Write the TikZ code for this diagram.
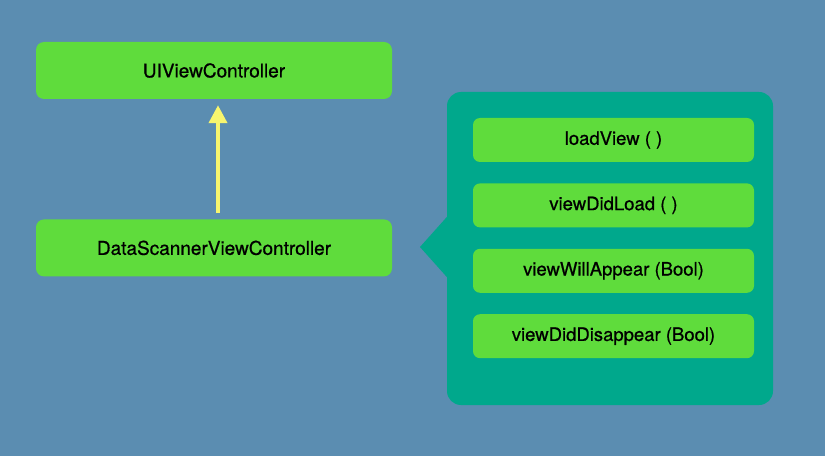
\documentclass[tikz,border=0pt]{standalone}
\usepackage{fontspec}
\setmainfont{TeX Gyre Heros}
\newfontfamily\medfont{TeX Gyre Heros}[FakeBold=0.7]
\usepackage{xcolor}
\definecolor{cBack}{HTML}{5B8DB1}
\definecolor{cGreen}{HTML}{5FDC3C}
\definecolor{cTeal}{HTML}{00A88C}
\definecolor{cYellow}{HTML}{F7F56E}
\usepackage{tikz}
\usetikzlibrary{positioning,arrows.meta}
\tikzset{
  node-class/.style={fill=cGreen,rounded corners=8pt,minimum width=356pt,
    minimum height=57pt,align=center,font=\medfont\fontsize{19}{22}\selectfont},
  node-method/.style={fill=cGreen,rounded corners=7pt,minimum width=281pt,
    minimum height=44pt,align=center,font=\medfont\fontsize{18.5}{21}\selectfont},
  node-panel/.style={fill=cTeal,rounded corners=14pt,minimum width=326pt,
    minimum height=313pt},
  arrow-inherit/.style={-{Triangle[length=18pt,width=18pt]},line width=4pt,
    draw=cYellow},
}

\begin{document}
\begin{tikzpicture}[x=1pt,y=1pt,node distance=21pt]
  \fill[cBack] (0,0) rectangle (825,456);
  \node[node-class] (uivc) at (214,385.5) {UIViewController};
  \node[node-class,below=120pt of uivc] (dsv) {DataScannerViewController};
  % panel with pointer towards dsv
  \node[node-panel] (panel) at (610,207.5) {};
  \coordinate (tip) at (420,209);
  \fill[cTeal] ([yshift=31.5pt]panel.west) -- (tip) -- ([yshift=-28.5pt]panel.west) -- cycle;
  \node[node-method] (m1) at (613.5,316) {loadView ( )};
  \node[node-method,below=of m1] (m2) {viewDidLoad ( )};
  \node[node-method,below=of m2] (m3) {viewWillAppear (Bool)};
  \node[node-method,below=of m3] (m4) {viewDidDisappear (Bool)};
  \draw[arrow-inherit,shorten <=6pt,shorten >=6pt]
    ([xshift=4pt]dsv.north) -- ([xshift=4pt]uivc.south);
\end{tikzpicture}
\end{document}
